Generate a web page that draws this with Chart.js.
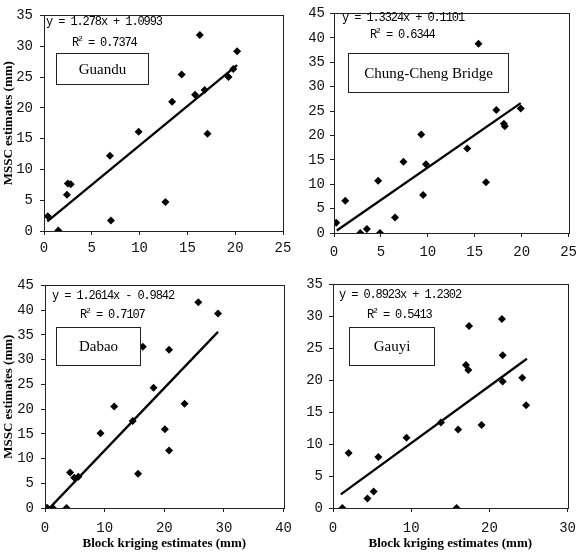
<!DOCTYPE html>
<html><head><meta charset="utf-8">
<script src="https://cdn.jsdelivr.net/npm/chart.js@4/dist/chart.umd.min.js"></script>
<style>
html,body{margin:0;padding:0;background:#fff;}
#wrap{position:relative;width:584px;height:552px;overflow:hidden;}
.cv{position:absolute;}
.eq{position:absolute;font-family:"Liberation Mono",monospace;font-size:12px;letter-spacing:-1.1px;line-height:14px;color:#000;white-space:nowrap;}
.eq sup{font-size:8px;line-height:0;}
.box{position:absolute;border:1px solid #222;font-family:"Liberation Serif","Times New Roman",serif;font-size:15px;display:flex;align-items:center;justify-content:center;color:#000;background:#fff;}
</style></head><body>
<div id="wrap"></div>
<script>
// ---- data ----
const stationNames = ["Guandu", "Chung-Cheng Bridge", "Dabao", "Gauyi"];
const guanduX = [0.4,1.5,2.4,2.5,2.8,6.9,7.0,9.9,12.7,13.4,14.4,15.8,16.3,16.8,17.1,19.3,19.8,20.2];
const guanduY = [2.4,0.1,5.9,7.7,7.6,12.2,1.7,16.1,4.7,21.0,25.4,22.1,31.8,22.9,15.8,25.0,26.3,29.2];
const chungX = [0.24,1.2,2.8,3.5,4.7,4.9,6.5,7.4,9.3,9.5,9.8,14.2,15.4,16.2,17.3,18.1,18.2,19.9];
const chungY = [2.1,6.6,0,0.8,10.7,0,3.2,14.6,20.2,7.8,14.1,17.3,38.8,10.4,25.2,22.4,21.9,25.5];
const dabaoX = [0.2,0.4,1.3,3.6,4.2,4.9,5.6,9.3,11.6,14.7,15.6,16.4,18.2,20.1,20.8,20.8,23.4,25.7,29.0];
const dabaoY = [0,0,0,0,7.2,6.1,6.3,15.1,20.5,17.6,6.9,32.6,24.3,15.9,11.6,32.0,21.1,41.6,39.3];
const gauyiX = [1.2,2.0,4.4,5.2,5.8,9.4,13.8,15.8,16.0,17.0,17.3,17.4,19.0,21.6,21.7,21.7,24.2,24.7];
const gauyiY = [0,8.6,1.5,2.6,8.0,11.0,13.4,0,12.3,22.4,21.6,28.5,13.0,29.6,23.9,19.8,20.4,16.1];
const slopes = [1.278, 1.3324, 1.2614, 0.8923];
const intercepts = [1.0993, 0.1101, -0.9842, 1.2302];
const equations = ["y = 1.278x + 1.0993", "y = 1.3324x + 0.1101", "y = 1.2614x - 0.9842", "y = 0.8923x + 1.2302"];
const r2Values = ["0.7374", "0.6344", "0.7107", "0.5413"];
const trendStart = [0.35, 0.3, 0.8, 1.0];
const trendEnd = [20.2, 19.9, 29.0, 24.8];
const xMax = [25, 25, 40, 30];
const xStep = [5, 5, 10, 10];
const yMax = [35, 45, 45, 35];
const yStep = [5, 5, 5, 5];
const yTitle = "MSSC estimates (mm)";
const xTitle = "Block kriging estimates (mm)";

// ---- layout (positions/styles) ----
const panels = [
  {x:guanduX,y:guanduY,left:0,top:0,w:300,h:262,yw:44,xh:31,padT:8,padR:17,xtp:5,ytp:7,showY:true,showX:false,
   eq:[46,15],r2:[72,36],box:[56,53,91,30]},
  {x:chungX,y:chungY,left:290,top:0,w:294,h:265,yw:44,xh:32,padT:7,padR:11,xtp:7,ytp:5,showY:false,showX:false,
   eq:[342,11],r2:[370,28],box:[348,53,159,38]},
  {x:dabaoX,y:dabaoY,left:0,top:270,w:300,h:282,yw:45,xh:44,padT:10,padR:15,xtp:8,ytp:7,showY:true,showX:true,
   eq:[52,289],r2:[80,308],box:[56,327,83,37]},
  {x:gauyiX,y:gauyiY,left:290,top:270,w:294,h:282,yw:43,xh:44,padT:10,padR:10,xtp:8,ytp:6,showY:false,showX:true,
   eq:[339,288],r2:[367,308],box:[349,327,84,37]}
];

const framePlugin = {
  id:'frame',
  afterDraw(chart){
    const a = chart.chartArea, c = chart.ctx;
    c.save(); c.strokeStyle = '#222'; c.lineWidth = 1;
    c.strokeRect(Math.round(a.left)+0.5, Math.round(a.top)+0.5, Math.round(a.right-a.left), Math.round(a.bottom-a.top));
    c.restore();
  }
};

const wrap = document.getElementById('wrap');
const tickFont = {family:'"Liberation Sans Narrow","Liberation Mono",monospace', size:14};
const titleFont = {family:'"Liberation Serif","Times New Roman",serif', size:13, weight:'bold'};

panels.forEach((p, i) => {
  const cv = document.createElement('canvas');
  cv.className = 'cv';
  cv.style.left = p.left + 'px'; cv.style.top = p.top + 'px';
  cv.style.width = p.w + 'px'; cv.style.height = p.h + 'px';
  cv.width = p.w; cv.height = p.h;
  wrap.appendChild(cv);
  const pts = p.x.map((v, k) => ({x: v, y: p.y[k]}));
  const trend = [trendStart[i], trendEnd[i]].map(v => ({x: v, y: slopes[i]*v + intercepts[i]}));
  new Chart(cv, {
    type: 'scatter',
    data: {datasets: [
      {data: pts, pointStyle: 'rectRot', pointRadius: 4, backgroundColor: '#000', borderColor: '#000', borderWidth: 0},
      {type: 'line', data: trend, borderColor: '#000', borderWidth: 2.3, pointRadius: 0, fill: false}
    ]},
    plugins: [framePlugin],
    options: {
      responsive: false, animation: false, devicePixelRatio: 1,
      layout: {padding: {top: p.padT, right: p.padR, left: 0, bottom: 0}},
      plugins: {legend: {display: false}, tooltip: {enabled: false}},
      scales: {
        x: {type: 'linear', min: 0, max: xMax[i],
            afterFit: s => { s.height = p.xh; },
            ticks: {stepSize: xStep[i], color: '#111', font: tickFont, padding: p.xtp, maxRotation: 0},
            grid: {drawOnChartArea: false, drawTicks: true, tickLength: 4, color: '#222'},
            border: {display: true, color: '#222'},
            title: {display: p.showX, text: xTitle, color: '#000', font: titleFont, padding: {top: 0, bottom: 1}}},
        y: {type: 'linear', min: 0, max: yMax[i],
            afterFit: s => { s.width = p.yw; },
            ticks: {stepSize: yStep[i], color: '#111', font: tickFont, padding: p.ytp},
            grid: {drawOnChartArea: false, drawTicks: true, tickLength: 4, color: '#222'},
            border: {display: true, color: '#222'},
            title: {display: p.showY, text: yTitle, color: '#000', font: titleFont, padding: {top: 1, bottom: 0}}}
      }
    }
  });
  const eq = document.createElement('div');
  eq.className = 'eq'; eq.style.left = p.eq[0] + 'px'; eq.style.top = p.eq[1] + 'px';
  eq.textContent = equations[i];
  wrap.appendChild(eq);
  const r2 = document.createElement('div');
  r2.className = 'eq'; r2.style.left = p.r2[0] + 'px'; r2.style.top = p.r2[1] + 'px';
  r2.innerHTML = 'R<sup>2</sup> = ' + r2Values[i];
  wrap.appendChild(r2);
  const bx = document.createElement('div');
  bx.className = 'box';
  bx.style.left = p.box[0] + 'px'; bx.style.top = p.box[1] + 'px';
  bx.style.width = p.box[2] + 'px'; bx.style.height = p.box[3] + 'px';
  bx.textContent = stationNames[i];
  wrap.appendChild(bx);
});
</script>
</body></html>
